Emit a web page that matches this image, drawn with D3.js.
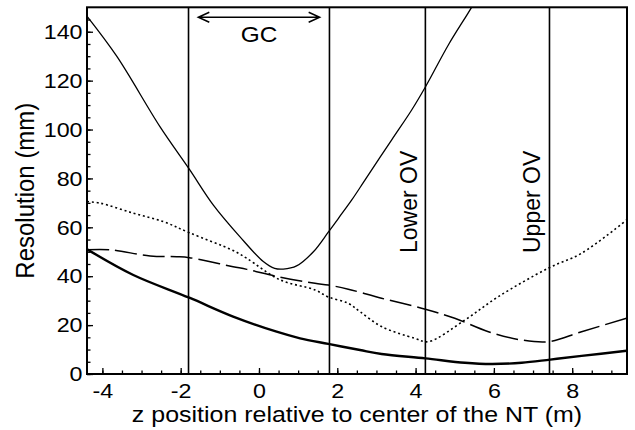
<!DOCTYPE html>
<html>
<head>
<meta charset="utf-8">
<script src="https://cdn.jsdelivr.net/npm/d3@7"></script>
<style>
  body { margin: 0; background: #fff; }
  svg { display: block; }
  text { font-family: "Liberation Sans", Arial, sans-serif; fill: #000; }
</style>
</head>
<body>
<svg id="chart" width="635" height="430"></svg>
<script>
// curves: [z (m), resolution (mm)]
var thinSolid = [[-4.39,146.3],[-3.63,129.9],[-2.53,101.2],[-1.78,83.8],[-1.17,69.2],[-0.49,56.2],
  [0.11,46],[0.4,43.2],[0.62,42.9],[0.96,44.2],[1.39,50],[1.77,58],[2.03,63.7],[2.37,71.2],
  [2.71,79.4],[3.39,95.8],[3.9,108],[4.25,117.4],[4.84,134.7],[5.43,150],[5.6,155]];
var dotted = [[-4.39,70.5],[-4.06,69.9],[-3.21,65.8],[-2.44,62.3],[-1.78,57.8],[-0.66,50.5],
  [-0.31,47.3],[0.54,38.5],[1.43,34.4],[1.77,31.5],[2.28,28.9],[2.58,25.5],[3.13,19.4],
  [3.98,14.6],[4.32,13.2],[5.26,22.1],[6.11,31.6],[7.39,43.3],[8.24,49.4],[9.39,63]];
var dashed = [[-4.39,50.8],[-3.81,50.8],[-2.78,48.3],[-2.1,48],[-1.78,47.6],[-0.66,43.9],
  [-0.31,42.8],[0.54,39.6],[1.43,37.1],[1.77,36.4],[2.28,34.7],[3.13,31],[4.25,26.5],
  [5.0,22.8],[5.86,17.3],[6.71,13.9],[7.39,13.2],[8.24,17.3],[9.39,22.8]];
var thickSolid = [[-4.39,51],[-3.21,40.5],[-1.78,31.2],[-0.66,23.5],[0.45,17.3],[1.05,14.6],
  [1.77,12.3],[2.58,9.8],[3.13,8.2],[4.25,6.4],[5.26,4.6],[5.94,4.1],[6.71,4.6],[7.44,5.9],
  [8.24,7.4],[9.39,9.5]];

// detector boundaries (m)
var boundaries = [-1.8, 1.8, 4.25, 7.42];
var xTicks = [-4, -2, 0, 2, 4, 6, 8];
var yTicks = [0, 20, 40, 60, 80, 100, 120, 140];

var plotLeft = 87, plotRight = 627, plotTop = 7.3, plotBottom = 374;
var stretch = 1.11; // text in the original is a bit wide

var svg = d3.select("#chart");

var x = d3.scaleLinear().domain([-4.393, 9.4]).range([plotLeft, plotRight]);
var y = d3.scaleLinear().domain([0, 150]).range([plotBottom, plotTop]);

svg.append("clipPath").attr("id", "plot")
  .append("rect")
  .attr("x", plotLeft).attr("y", plotTop)
  .attr("width", plotRight - plotLeft).attr("height", plotBottom - plotTop);

// minor ticks
svg.append("g")
  .attr("transform", "translate(0," + plotBottom + ")")
  .call(d3.axisBottom(x).tickValues(d3.range(-4, 9.5, 0.5)).tickSize(-3.5).tickFormat(""))
  .call(function (g) { g.select(".domain").remove(); });
svg.append("g")
  .attr("transform", "translate(" + plotLeft + ",0)")
  .call(d3.axisLeft(y).tickValues(d3.range(0, 150, 5)).tickSize(-3.5).tickFormat(""))
  .call(function (g) { g.select(".domain").remove(); });

// major ticks and labels
var xAxis = svg.append("g")
  .attr("transform", "translate(0," + plotBottom + ")")
  .call(d3.axisBottom(x).tickValues(xTicks).tickSize(-6).tickPadding(9)
    .tickFormat(function (d) { return String(d); }));
xAxis.select(".domain").remove();
xAxis.selectAll("text")
  .style("font-size", "21px")
  .attr("transform", "scale(" + stretch + ",1)");

var yAxis = svg.append("g")
  .attr("transform", "translate(" + plotLeft + ",0)")
  .call(d3.axisLeft(y).tickValues(yTicks).tickSize(-6).tickPadding(4)
    .tickFormat(function (d) { return String(d); }));
yAxis.select(".domain").remove();
yAxis.selectAll("text")
  .style("font-size", "21px")
  .attr("transform", "scale(" + stretch + ",1)");

svg.selectAll(".tick line").attr("stroke", "#000").attr("stroke-width", 1.3);

// vertical boundary lines
svg.selectAll(".boundary")
  .data(boundaries)
  .enter().append("line")
  .attr("class", "boundary")
  .attr("x1", function (d) { return x(d); })
  .attr("x2", function (d) { return x(d); })
  .attr("y1", plotTop).attr("y2", plotBottom)
  .attr("stroke", "#000").attr("stroke-width", 1.6);

// curves
var line = d3.line()
  .x(function (d) { return x(d[0]); })
  .y(function (d) { return y(d[1]); })
  .curve(d3.curveCatmullRom.alpha(0.5));

var curves = svg.append("g").attr("clip-path", "url(#plot)");
curves.append("path").datum(thickSolid)
  .attr("d", line).attr("fill", "none").attr("stroke", "#000").attr("stroke-width", 2.4);
curves.append("path").datum(dashed)
  .attr("d", line).attr("fill", "none").attr("stroke", "#000").attr("stroke-width", 1.5)
  .attr("stroke-dasharray", "22,6");
curves.append("path").datum(dotted)
  .attr("d", line).attr("fill", "none").attr("stroke", "#000").attr("stroke-width", 1.6)
  .attr("stroke-dasharray", "2,2.8");
curves.append("path").datum(thinSolid)
  .attr("d", line).attr("fill", "none").attr("stroke", "#000").attr("stroke-width", 1.3);

// frame
svg.append("rect")
  .attr("x", plotLeft).attr("y", plotTop)
  .attr("width", plotRight - plotLeft).attr("height", plotBottom - plotTop)
  .attr("fill", "none").attr("stroke", "#000").attr("stroke-width", 2);

// GC arrow
var ay = 17.3, ax1 = x(-1.55), ax2 = x(1.55);
svg.append("path")
  .attr("d", "M" + ax1 + "," + ay + "H" + ax2 +
    "M" + (ax1 + 11) + "," + (ay - 5) + "L" + ax1 + "," + ay + "L" + (ax1 + 11) + "," + (ay + 5) +
    "M" + (ax2 - 11) + "," + (ay - 5) + "L" + ax2 + "," + ay + "L" + (ax2 - 11) + "," + (ay + 5))
  .attr("fill", "none").attr("stroke", "#000").attr("stroke-width", 1.5);
svg.append("text")
  .attr("transform", "translate(" + x(0) + ",41.5) scale(" + stretch + ",1)")
  .attr("text-anchor", "middle")
  .style("font-size", "22px")
  .text("GC");

// overlap-volume labels
svg.append("text")
  .attr("transform", "translate(" + (x(4.25) - 8.5) + ",253) rotate(-90)")
  .style("font-size", "23px")
  .text("Lower OV");
svg.append("text")
  .attr("transform", "translate(" + (x(7.42) - 9.5) + ",253) rotate(-90)")
  .style("font-size", "23px")
  .text("Upper OV");

// axis titles
svg.append("text")
  .attr("transform", "translate(" + ((plotLeft + plotRight) / 2) + ",422) scale(" + stretch + ",1)")
  .attr("text-anchor", "middle")
  .style("font-size", "22.5px")
  .text("z position relative to center of the NT (m)");
svg.append("text")
  .attr("transform", "translate(34," + ((plotTop + plotBottom) / 2) + ") scale(" + stretch + ",1) rotate(-90)")
  .attr("text-anchor", "middle")
  .style("font-size", "24px")
  .text("Resolution (mm)");
</script>
</body>
</html>
